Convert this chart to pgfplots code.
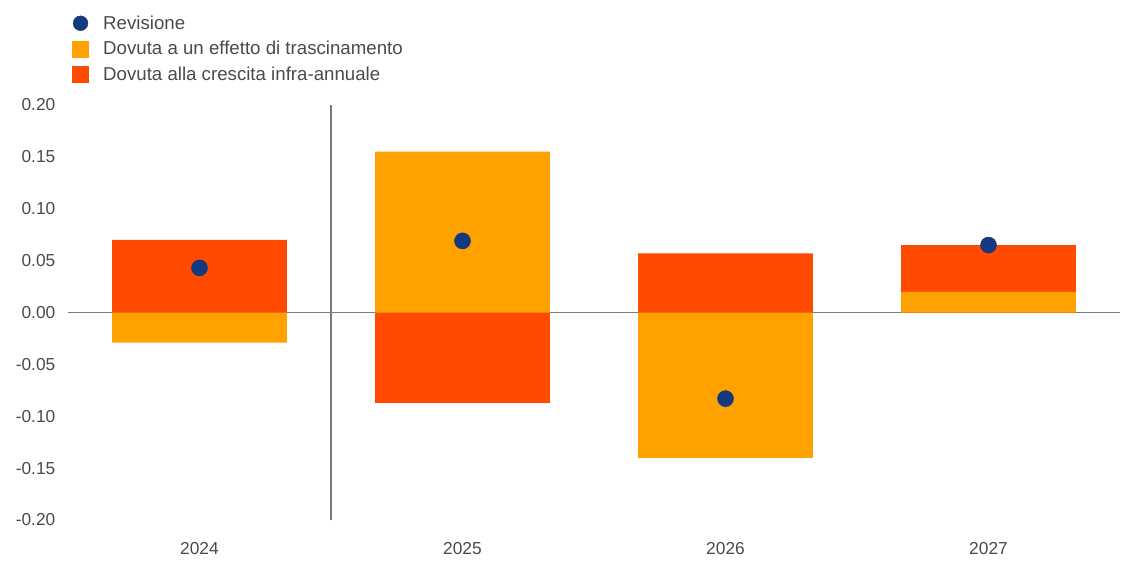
\documentclass[border=0pt]{standalone}
\usepackage{pgfplots}
\pgfplotsset{compat=1.18}
\usepackage{fontspec}
\setmainfont{Liberation Sans}
\definecolor{carry}{HTML}{FFA200}
\definecolor{intra}{HTML}{FF4A00}
\definecolor{rev}{HTML}{14397F}
\definecolor{txt}{HTML}{4A4A4A}
\definecolor{lin}{HTML}{7A7A7A}
\begin{document}
\begin{tikzpicture}
\begin{axis}[
  width=789pt, height=311.25pt, scale only axis,
  xmin=-0.5, xmax=3.5, ymin=-0.2, ymax=0.2,
  axis line style={draw=none},
  xtick={0,1,2,3}, xticklabels={2024,2025,2026,2027},
  ytick={-0.2,-0.15,-0.1,-0.05,0,0.05,0.1,0.15,0.2},
  major tick length=0pt,
  tick label style={font=\fontsize{13}{15}\selectfont, text=txt},
  yticklabel style={/pgf/number format/fixed, /pgf/number format/fixed zerofill,
    /pgf/number format/precision=2, /pgf/number format/assume math mode=true, xshift=-6pt},
  xticklabel style={yshift=-13pt},
  extra x ticks={0.5}, extra x tick labels={},
  extra x tick style={grid=major, major grid style={lin, line width=1.1pt}},
  extra y ticks={0}, extra y tick labels={},
  extra y tick style={grid=major, major grid style={lin, line width=1.1pt}},
  legend style={at={(0,1)}, anchor=south west, xshift=0pt, yshift=13pt,
    draw=none, fill=none, font=\fontsize{14}{16}\selectfont\color{txt},
    row sep=3.5pt, legend cell align=left},
]
\addlegendimage{legend image code/.code={\fill[rev] (6pt,0pt) circle (5.5pt); \path[draw=none,fill=none] (0pt,-1pt) rectangle (21pt,1pt);}}
\addlegendentry{Revisione}
\addlegendimage{legend image code/.code={\fill[carry] (0pt,-6pt) rectangle (12pt,6pt); \path[draw=none,fill=none] (0pt,-1pt) rectangle (21pt,1pt);}}
\addlegendentry{Dovuta a un effetto di trascinamento}
\addlegendimage{legend image code/.code={\fill[intra] (0pt,-6pt) rectangle (12pt,6pt); \path[draw=none,fill=none] (0pt,-1pt) rectangle (21pt,1pt);}}
\addlegendentry{Dovuta alla crescita infra-annuale}
% intra-annual growth (2027 drawn as total top, carry-over overlays the lower part)
\addplot[ybar, bar width=0.665, bar shift=0pt, fill=intra, draw=none, forget plot]
  coordinates {(0,0.070) (1,-0.087) (2,0.057) (3,0.065)};
% carry-over effect
\addplot[ybar, bar width=0.665, bar shift=0pt, fill=carry, draw=none, forget plot]
  coordinates {(0,-0.029) (1,0.155) (2,-0.140) (3,0.020)};
% revision
\addplot[only marks, mark=*, mark size=6pt, color=rev, forget plot]
  coordinates {(0,0.043) (1,0.069) (2,-0.083) (3,0.065)};
\end{axis}
\path (current axis.south west) ++(-51pt,-47.25pt) rectangle ++(842.25pt,437.25pt);
\end{tikzpicture}
\end{document}
